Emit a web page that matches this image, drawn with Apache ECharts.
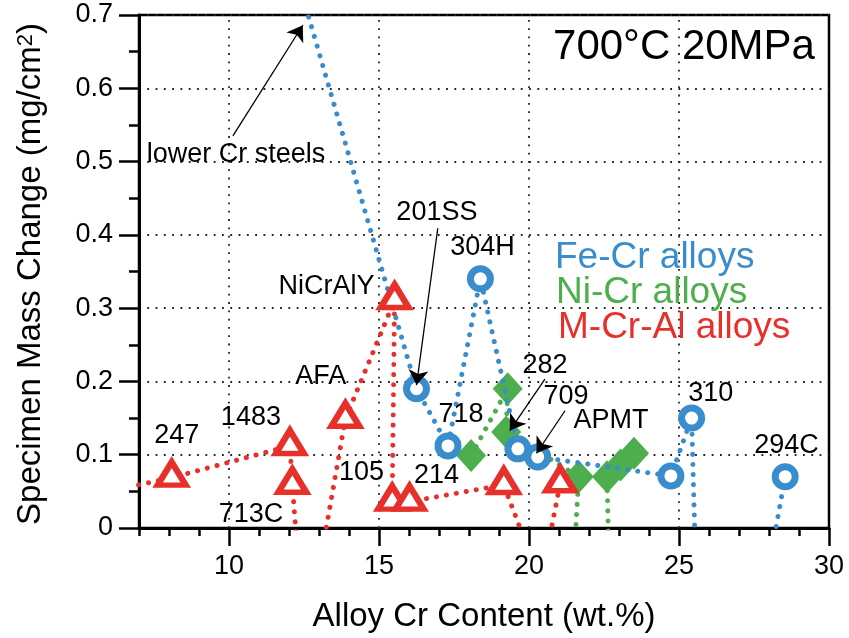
<!DOCTYPE html>
<html>
<head>
<meta charset="utf-8">
<script src="https://cdn.jsdelivr.net/npm/echarts@6/dist/echarts.min.js"></script>
<style>
html,body{margin:0;padding:0;background:#fff;}
#chart{width:849px;height:638px;}
</style>
</head>
<body>
<div id="chart"></div>
<script>
// ---- data ----
const xMin = 7, xMax = 30, yMin = 0, yMax = 0.7;
const xMajorTicks = [10, 15, 20, 25, 30];
const xGridLines = [10, 15, 20, 25];

// Fe-Cr alloys (blue circles); points outside the axes are line continuations
const feCrX = [12.0, 16.25, 17.30, 18.38, 19.63, 20.29, 24.73, 25.42, 25.88, 28.54];
const feCrY = [0.79, 0.19, 0.112, 0.34, 0.108, 0.097, 0.071, 0.15, -0.53, 0.07];

// Ni-Cr alloys (green diamonds)
const niCrX = [18.07, 19.29, 19.24, 21.66, 21.26, 22.76, 22.60, 23.05, 23.50];
const niCrY = [0.099, 0.19, 0.131, 0.07, -0.21, -0.21, 0.07, 0.086, 0.102];

// M-Cr-Al alloys (red triangles)
const mCrAlX = [6.0, 8.09, 12.03, 12.11, 12.53, 13.88, 15.52, 15.44, 16.02, 19.16, 20.39, 21.04];
const mCrAlY = [0.05, 0.0687, 0.112, 0.059, -0.166, 0.149, 0.311, 0.036, 0.036, 0.0588, -0.075, 0.061];

// annotation labels
const noteText = ['lower Cr steels', '201SS', '304H', 'NiCrAlY', 'AFA', '1483', '247', '713C', '105', '214', '718', '282', '709', 'APMT', '310', '294C'];
const noteX = [10.23, 16.93, 18.45, 13.25, 13.06, 10.73, 8.26, 10.73, 14.42, 16.92, 17.73, 20.53, 21.23, 22.73, 26.06, 28.58];
const noteY = [0.509, 0.430, 0.383, 0.329, 0.206, 0.151, 0.126, 0.019, 0.075, 0.071, 0.155, 0.222, 0.180, 0.146, 0.184, 0.112];

// annotation arrows
const arrowFrom = [[10.13, 0.535], [16.96, 0.409], [20.53, 0.203], [21.20, 0.160]];
const arrowTo = [[12.46, 0.686], [16.25, 0.195], [19.36, 0.133], [20.25, 0.102]];

const legendText = ['Fe-Cr alloys', 'Ni-Cr alloys', 'M-Cr-Al alloys'];

// ---- styles ----
const BLUE = '#3a8dcd', GREEN = '#4cae4c', RED = '#e8302a';
const FONT = 'Liberation Sans';

function pts(xs, ys) {
  return xs.map((x, i) => {
    const y = ys[i];
    const inside = x >= xMin && x <= xMax && y >= yMin && y <= yMax;
    return inside ? { value: [x, y] } : { value: [x, y], symbol: 'none' };
  });
}
function dotted(color) {
  return { color: color, width: 5, type: [0.1, 10], cap: 'round' };
}

const chart = echarts.init(document.getElementById('chart'), null, { renderer: 'canvas' });
const option = {
  animation: false,
  textStyle: { fontFamily: FONT },
  grid: { left: 139, right: 20, top: 15, bottom: 106.3, show: true, borderColor: '#000', borderWidth: 2.5, backgroundColor: 'transparent' },
  xAxis: [
    {
      type: 'value', min: xMin, max: xMax, interval: 1, position: 'bottom',
      axisLine: { show: true, onZero: false, lineStyle: { color: '#000', width: 3 } },
      axisTick: { show: true, length: 8, lineStyle: { color: '#000', width: 2.5 } },
      axisLabel: { show: false },
      splitLine: { show: false },
      name: 'Alloy Cr Content (wt.%)', nameLocation: 'middle', nameGap: 72,
      nameTextStyle: { fontSize: 33, color: '#000', fontFamily: FONT }
    },
    {
      type: 'value', min: xMin, max: xMax, position: 'bottom',
      axisLine: { show: false },
      axisTick: { show: true, length: 18, customValues: xMajorTicks, lineStyle: { color: '#000', width: 2.5 } },
      axisLabel: { show: true, customValues: xMajorTicks, margin: 25, fontSize: 27, color: '#000', fontFamily: FONT },
      splitLine: { show: false }
    }
  ],
  yAxis: {
    type: 'value', min: yMin, max: yMax, interval: 0.1,
    axisLine: { show: true, onZero: false, lineStyle: { color: '#000', width: 3 } },
    axisTick: { show: true, length: 20, lineStyle: { color: '#000', width: 2.5 } },
    minorTick: { show: true, splitNumber: 2, length: 10, lineStyle: { color: '#000', width: 2.5 } },
    axisLabel: { margin: 26, fontSize: 27, color: '#000', fontFamily: FONT },
    splitLine: { show: true, lineStyle: { color: '#222', width: 1.8, type: [1.8, 6.5] } }
  },
  series: [
    {
      type: 'line', data: [], z: 1, silent: true,
      markLine: {
        silent: true, symbol: 'none', z: 1, animation: false,
        label: { show: false },
        lineStyle: { color: '#222', width: 1.8, type: [1.8, 6.5] },
        emphasis: { disabled: true },
        data: xGridLines.map(v => ({ xAxis: v }))
      }
    },
    {
      name: 'Ni-Cr alloys', type: 'line', z: 2, clip: true, showAllSymbol: true,
      data: pts(niCrX, niCrY),
      symbol: 'diamond', symbolSize: [30, 33],
      itemStyle: { color: GREEN },
      lineStyle: dotted(GREEN)
    },
    {
      name: 'Fe-Cr alloys', type: 'line', z: 3, clip: true, showAllSymbol: true,
      data: pts(feCrX, feCrY),
      symbol: 'circle', symbolSize: 20,
      itemStyle: { color: '#fff', borderColor: BLUE, borderWidth: 7 },
      lineStyle: dotted(BLUE)
    },
    {
      name: 'M-Cr-Al alloys', type: 'line', z: 4, clip: true, showAllSymbol: true,
      data: pts(mCrAlX, mCrAlY),
      symbol: 'triangle', symbolSize: [28, 23], symbolOffset: [0, -4],
      itemStyle: { color: '#fff', borderColor: RED, borderWidth: 6 },
      lineStyle: dotted(RED)
    },
    {
      type: 'scatter', z: 6, silent: true,
      symbolSize: 1,
      itemStyle: { color: 'transparent' },
      data: noteText.map((t, i) => ({ name: t, value: [noteX[i], noteY[i]] })),
      label: {
        show: true, position: 'inside', formatter: p => p.name, fontSize: 27,
        color: '#000', opacity: 1, textBorderWidth: 0, textBorderColor: 'transparent', fontFamily: FONT
      },
      markLine: {
        silent: true, z: 7, animation: false,
        symbol: ['none', 'arrow'], symbolSize: 15,
        label: { show: false },
        lineStyle: { color: '#000', width: 1.3, type: 'solid' },
        emphasis: { disabled: true },
        data: arrowFrom.map((f, i) => [{ coord: f }, { coord: arrowTo[i] }])
      }
    }
  ],
  graphic: [
    {
      type: 'text', x: 684, y: 47.5, z: 10,
      style: { text: '700°C 20MPa', fontSize: 42, fontFamily: FONT, fill: '#000', align: 'center', verticalAlign: 'middle' }
    },
    {
      type: 'text', x: 555, y: 257.5, z: 10,
      style: { text: legendText[0], fontSize: 37, fontFamily: FONT, fill: BLUE, align: 'left', verticalAlign: 'middle' }
    },
    {
      type: 'text', x: 556, y: 292.5, z: 10,
      style: { text: legendText[1], fontSize: 37, fontFamily: FONT, fill: GREEN, align: 'left', verticalAlign: 'middle' }
    },
    {
      type: 'text', x: 558, y: 328, z: 10,
      style: { text: legendText[2], fontSize: 37, fontFamily: FONT, fill: RED, align: 'left', verticalAlign: 'middle' }
    },
    {
      type: 'text', x: 31, y: 274, rotation: Math.PI / 2, z: 10,
      style: {
        text: '{a|Specimen Mass Change (mg/cm}{s|2}{a|)}',
        align: 'center', verticalAlign: 'middle',
        rich: {
          a: { fontSize: 33, fontFamily: FONT, fill: '#000', color: '#000', verticalAlign: 'bottom' },
          s: { fontSize: 22, fontFamily: FONT, fill: '#000', color: '#000', verticalAlign: 'top' }
        }
      }
    }
  ]
};
chart.setOption(option);
</script>
</body>
</html>
